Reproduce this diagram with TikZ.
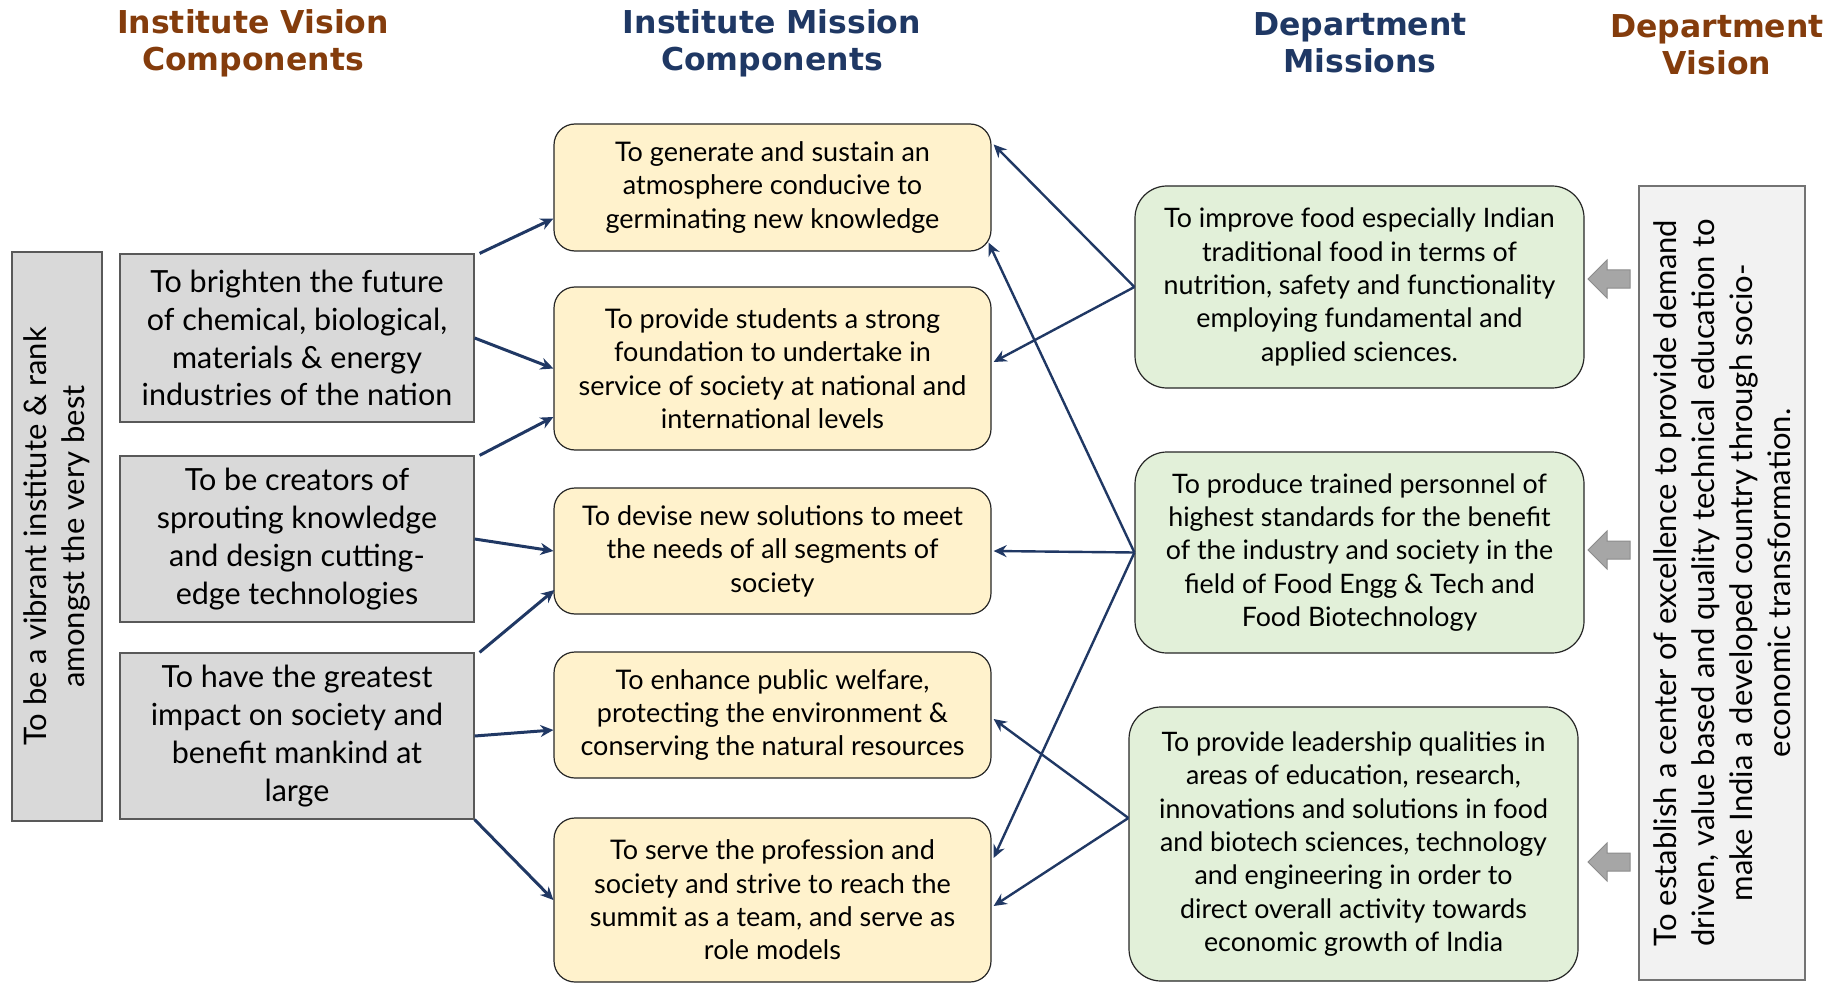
\documentclass[tikz,border=0pt]{standalone}
\usepackage{fontspec}
\setmainfont{Lato}
\newfontfamily\titlefont{DejaVu Sans}
\usetikzlibrary{calc,arrows.meta}
\definecolor{brownT}{HTML}{843C0C}
\definecolor{blueT}{HTML}{1F3864}
\definecolor{arrowc}{HTML}{203864}
\definecolor{yfill}{HTML}{FFF2CC}
\definecolor{gfill}{HTML}{E2F0D9}
\definecolor{grayfill}{HTML}{D9D9D9}
\definecolor{lightfill}{HTML}{F2F2F2}
\definecolor{blockarrow}{HTML}{A6A6A6}
\begin{document}
\begin{tikzpicture}[x=1pt,y=-1pt,
  title/.style={font=\titlefont\bfseries\fontsize{31.5}{37}\selectfont, align=center},
  graybox/.style={draw=black!65, line width=1.2pt, fill=grayfill, align=center, inner sep=0pt,
     font=\fontsize{30.5}{37.9}\selectfont},
  ybox/.style={draw=black!85, line width=1.2pt, fill=yfill, rounded corners=21pt, align=center, inner sep=0pt,
     minimum width=437pt, font=\fontsize{27}{33.4}\selectfont},
  gbox/.style={draw=black!85, line width=1.2pt, fill=gfill, rounded corners=32pt, align=center, inner sep=0pt,
     minimum width=449pt, font=\fontsize{26.8}{33.4}\selectfont},
  arr/.style={draw=arrowc, line width=2.4pt, -{Stealth[length=13pt,width=12pt]}},
  varr/.style={arr, line width=3pt},
  barrow/.style={fill=blockarrow, draw=black!45, line width=1pt}
]
\useasboundingbox (0,0) rectangle (1838,984);

% titles
\node[title, text=brownT] (t1) at (253,43) {Institute Vision\\Components};
\node[title, text=blueT] (t2) at (772,43) {Institute Mission\\Components};
\node[title, text=blueT] (t3) at (1360,43) {Department\\Missions};
\node[title, text=brownT] (t4) at (1717,45) {Department\\Vision};

% left vertical box
\node[graybox, minimum width=90pt, minimum height=569pt] (lv) at (57,536.5) {};
\node[rotate=90, align=center, font=\fontsize{31}{37.9}\selectfont] (lvt) at (lv.center)
  {To be a vibrant institute \& rank\\amongst the very best};

% gray component boxes
\node[graybox, minimum width=354pt, minimum height=168pt] (g1) at (297,338)
  {To brighten the future\\of chemical, biological,\\materials \& energy\\industries of the nation};
\node[graybox, minimum width=354pt, minimum height=166pt] (g2) at (297,539)
  {To be creators of\\sprouting knowledge\\and design cutting-\\edge technologies};
\node[graybox, minimum width=354pt, minimum height=166pt] (g3) at (297,736)
  {To have the greatest\\impact on society and\\benefit mankind at\\large};

% yellow mission boxes
\node[ybox, minimum height=127pt] (y1) at (772.5,187.5)
  {To generate and sustain an\\atmosphere conducive to\\germinating new knowledge};
\node[ybox, minimum height=163pt] (y2) at (772.5,368.5)
  {To provide students a strong\\foundation to undertake in\\service of society at national and\\international levels};
\node[ybox, minimum height=126pt] (y3) at (772.5,551)
  {To devise new solutions to meet\\the needs of all segments of\\society};
\node[ybox, minimum height=126pt] (y4) at (772.5,715)
  {To enhance public welfare,\\protecting the environment \&\\conserving the natural resources};
\node[ybox, minimum height=164pt] (y5) at (772.5,900)
  {To serve the profession and\\society and strive to reach the\\summit as a team, and serve as\\role models};

% green department mission boxes
\node[gbox, minimum height=202pt] (d1) at (1359.5,287)
  {To improve food especially Indian\\traditional food in terms of\\nutrition, safety and functionality\\employing fundamental and\\applied sciences.};
\node[gbox, minimum height=201pt] (d2) at (1359.5,552.5)
  {To produce trained personnel of\\highest standards for the benefit\\of the industry and society in the\\field of Food Engg \& Tech and\\Food Biotechnology};
\node[gbox, minimum height=274pt] (d3) at (1353.5,844)
  {To provide leadership qualities in\\areas of education, research,\\innovations and solutions in food\\and biotech sciences, technology\\and engineering in order to\\direct overall activity towards\\economic growth of India};

% right vertical box
\node[draw=black!55, line width=1.2pt, fill=lightfill, minimum width=166pt, minimum height=794pt, inner sep=0pt] (rv) at (1722,583) {};
\node[rotate=90, align=center, font=\fontsize{31}{37.9}\selectfont] (rvt) at (rv.center)
  {To establish a center of excellence to provide demand\\driven, value based and quality technical education to\\make India a developed country through socio-\\economic transformation.};

% block arrows
\foreach \yy in {279,550,862}{
  \draw[barrow] (1588,\yy) -- (1607,\yy-19) -- (1607,\yy-9) -- (1630,\yy-9) -- (1630,\yy+9)
     -- (1607,\yy+9) -- (1607,\yy+19) -- cycle;
}

% connectors vision components -> mission components
\draw[varr] ($(g1.north east)+(5,0)$) -- ($(y1.west)+(0,31)$);
\draw[varr] (g1.east) -- (y2.west);
\draw[varr] ($(g2.north east)+(5,0)$) -- ($(y2.west)+(0,48.5)$);
\draw[varr] (g2.east) -- (y3.west);
\draw[varr] ($(g3.north east)+(5,0)$) -- ($(y3.west)+(1,39)$);
\draw[varr] (g3.east) -- ($(y4.west)+(0,15)$);
\draw[varr] (g3.south east) -- (y5.west);

% connectors department missions -> mission components
\coordinate (c3) at ($(d3.west)+(0,-26)$);
\draw[arr] (d1.west) -- ($(y1.east)+(2,-43)$);
\draw[arr] (d1.west) -- ($(y2.east)+(2,-6.5)$);
\draw[arr] (d2.west) -- ($(y1.south east)+(-3,-9)$);
\draw[arr] (d2.west) -- ($(y3.east)+(2,0)$);
\draw[arr] (d2.west) -- ($(y5.east)+(2,-42)$);
\draw[arr] (c3) -- ($(y4.east)+(2,4)$);
\draw[arr] (c3) -- ($(y5.east)+(2,6)$);
\end{tikzpicture}
\end{document}
